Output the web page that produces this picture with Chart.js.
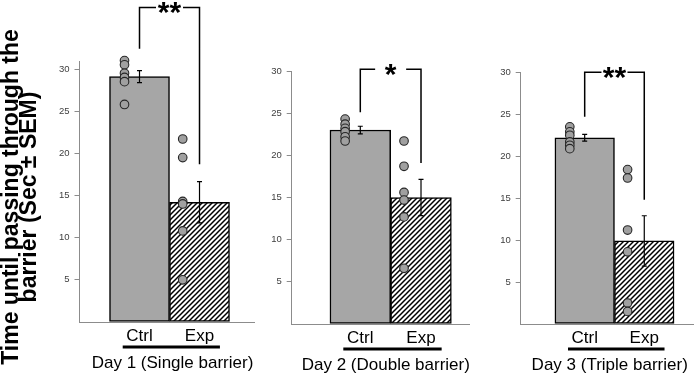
<!DOCTYPE html>
<html>
<head>
<meta charset="utf-8">
<title>Time until passing through the barrier</title>
<script src="https://cdn.jsdelivr.net/npm/chart.js"></script>
<style>
  body { margin: 0; background: #fff; }
  #wrap { position: relative; width: 699px; height: 377px; }
  #wrap canvas { position: absolute; left: 0; top: 0; }
</style>
</head>
<body>
<div id="wrap">
  <canvas id="day1" width="699" height="377"></canvas>
  <canvas id="day2" width="699" height="377"></canvas>
  <canvas id="day3" width="699" height="377"></canvas>
</div>
<script>
// ---- data ----
var categories = ['Ctrl', 'Exp'];
var dayTitles = ['Day 1 (Single barrier)', 'Day 2 (Double barrier)', 'Day 3 (Triple barrier)'];
var yTitle = ['Time until passing through the', 'barrier (Sec \u00b1 SEM)'];
var yTicks = [0, 5, 10, 15, 20, 25, 30];

var meanCtrl = [29.1, 23.0, 22.2];
var meanExp = [14.2, 15.0, 9.9];
var semCtrl = [0.7, 0.45, 0.4];
var semExp = [2.45, 2.15, 3.0];

var ctrlPoints = [
  [31.0, 30.5, 29.5, 29.0, 28.5, 25.8],
  [24.3, 23.7, 23.2, 22.8, 22.2, 21.7],
  [23.5, 22.9, 22.5, 21.7, 21.3, 20.9]
];
var expPoints = [
  [21.7, 19.5, 14.3, 14.0, 10.8, 5.0],
  [21.7, 18.7, 15.6, 14.7, 12.7, 6.6],
  [18.4, 17.4, 11.2, 8.6, 2.5, 1.5]
];

// significance brackets (y values in data units)
var sigLabels = ['**', '*', '**'];
var sigLevel = [37.3, 30.2, 30.0];
var sigLeftEnd = [32.4, 25.1, 24.7];
var sigRightEnd = [18.7, 19.1, 14.8];

// ---- layout ----
var FONT = "'Liberation Sans', Arial, sans-serif";
var ctrlDotX = -0.25, expDotX = 0.72;
var panels = [
  { id: 'day1', padLeft: 0, yWidth: 79.5, padRight: 445, padTop: 61.7, padBottom: 15, xMin: -1.0, xMax: 1.908, yMax: 30.87, yTitle: true, titleX: 0.55, gap: 27 },
  { id: 'day2', padLeft: 246.7, yWidth: 45, padRight: 229, padTop: 71, padBottom: 13, xMin: -1.13, xMax: 1.807, yMax: 30, yTitle: false, titleX: 0.42, gap: 31 },
  { id: 'day3', padLeft: 475.7, yWidth: 45, padRight: 1.3, padTop: 72.3, padBottom: 13, xMin: -1.074, xMax: 1.828, yMax: 30, yTitle: false, titleX: 0.42, gap: 26 }
];

function makeHatch() {
  var c = document.createElement('canvas');
  c.width = 5; c.height = 5;
  var g = c.getContext('2d');
  g.fillStyle = '#fff';
  g.fillRect(0, 0, 5, 5);
  g.strokeStyle = '#000';
  g.lineWidth = 1.5;
  g.beginPath();
  g.moveTo(0, 5); g.lineTo(5, 0);
  g.moveTo(-1, 1); g.lineTo(1, -1);
  g.moveTo(4, 6); g.lineTo(6, 4);
  g.stroke();
  return g.createPattern(c, 'repeat');
}

// error bars, bracket, underline, day title and the big y title
var decor = {
  id: 'decor',
  afterDraw: function(chart, args, o) {
    var ctx = chart.ctx, xs = chart.scales.x, ys = chart.scales.y, k = o.k, p = panels[k];
    ctx.save();
    ctx.strokeStyle = '#000';

    // error bars
    var means = [meanCtrl[k], meanExp[k]], sems = [semCtrl[k], semExp[k]];
    ctx.lineWidth = 1.2;
    for (var i = 0; i < 2; i++) {
      var x = xs.getPixelForValue(i);
      var yt = ys.getPixelForValue(means[i] + sems[i]);
      var yb = ys.getPixelForValue(means[i] - sems[i]);
      ctx.beginPath();
      ctx.moveTo(x, yt); ctx.lineTo(x, yb);
      ctx.moveTo(x - 2.5, yt); ctx.lineTo(x + 2.5, yt);
      ctx.moveTo(x - 2.5, yb); ctx.lineTo(x + 2.5, yb);
      ctx.stroke();
    }

    // bracket
    var xl = xs.getPixelForValue(0), xr = xs.getPixelForValue(1), xc = (xl + xr) / 2;
    var yB = ys.getPixelForValue(sigLevel[k]);
    ctx.lineWidth = 1.5;
    ctx.beginPath();
    ctx.moveTo(xl, ys.getPixelForValue(sigLeftEnd[k]));
    ctx.lineTo(xl, yB);
    ctx.lineTo(xc - p.gap / 2, yB);
    ctx.moveTo(xc + p.gap / 2, yB);
    ctx.lineTo(xr, yB);
    ctx.lineTo(xr, ys.getPixelForValue(sigRightEnd[k]));
    ctx.stroke();
    ctx.fillStyle = '#000';
    ctx.font = 'bold 30px ' + FONT;
    ctx.textAlign = 'center';
    ctx.textBaseline = 'alphabetic';
    ctx.fillText(sigLabels[k], xc, yB + 15);

    // thick line under the categories
    var bottom = chart.chartArea.bottom;
    ctx.lineWidth = 2.8;
    ctx.beginPath();
    ctx.moveTo(xs.getPixelForValue(-0.28), bottom + 25);
    ctx.lineTo(xs.getPixelForValue(1.34), bottom + 25);
    ctx.stroke();

    // day title
    ctx.font = '17px ' + FONT;
    ctx.textBaseline = 'middle';
    ctx.fillText(dayTitles[k], xs.getPixelForValue(p.titleX), bottom + 41.5);

    // y title (first panel only)
    if (p.yTitle) {
      ctx.translate(0, 197);
      ctx.rotate(-Math.PI / 2);
      ctx.font = 'bold 23px ' + FONT;
      ctx.textBaseline = 'alphabetic';
      ctx.fillText(yTitle[0], 0, 17.5);
      ctx.fillText(yTitle[1], 0, 36);
    }
    ctx.restore();
  }
};

var hatch = makeHatch();

panels.forEach(function(p, k) {
  new Chart(document.getElementById(p.id), {
    type: 'bar',
    data: {
      datasets: [
        {
          type: 'scatter',
          data: ctrlPoints[k].map(function(v) { return { x: ctrlDotX, y: v }; })
            .concat(expPoints[k].map(function(v) { return { x: expDotX, y: v }; })),
          pointRadius: 4.3,
          pointBackgroundColor: '#a0a0a0',
          pointBorderColor: '#262626',
          pointBorderWidth: 1.1,
          clip: false,
          order: 0
        },
        {
          type: 'bar',
          data: [{ x: 0, y: meanCtrl[k] }, { x: 1, y: meanExp[k] }],
          backgroundColor: ['#a6a6a6', hatch],
          borderColor: '#000',
          borderWidth: 1.5,
          borderSkipped: false,
          barPercentage: 1,
          categoryPercentage: 1,
          order: 1
        }
      ]
    },
    options: {
      responsive: false,
      animation: false,
      devicePixelRatio: 1,
      layout: { padding: { left: p.padLeft, right: p.padRight, top: p.padTop, bottom: p.padBottom } },
      plugins: {
        legend: { display: false },
        tooltip: { enabled: false },
        decor: { k: k }
      },
      scales: {
        x: {
          type: 'linear',
          offset: false,
          min: p.xMin,
          max: p.xMax,
          afterBuildTicks: function(s) { s.ticks = categories.map(function(c, i) { return { value: i }; }); },
          afterFit: function(s) { s.height = 40; },
          ticks: {
            callback: function(v, i) { return categories[i]; },
            font: { family: FONT, size: 17 },
            color: '#000',
            padding: 4.5,
            maxRotation: 0,
            autoSkip: false
          },
          grid: { display: false, drawTicks: false },
          border: { color: '#8c8c8c', width: 1 }
        },
        y: {
          type: 'linear',
          min: 0,
          max: p.yMax,
          afterBuildTicks: function(s) { s.ticks = yTicks.map(function(v) { return { value: v }; }); },
          afterFit: function(s) { s.width = p.yWidth; },
          ticks: {
            callback: function(v) { return v === 0 ? '' : v; },
            font: { family: FONT, size: 9.5 },
            color: '#404040',
            padding: 5
          },
          grid: {
            drawOnChartArea: false,
            drawTicks: true,
            tickLength: 5,
            color: function(c) { return c.tick && c.tick.value === 0 ? 'rgba(0,0,0,0)' : '#8c8c8c'; }
          },
          border: { color: '#8c8c8c', width: 1 }
        }
      }
    },
    plugins: [decor]
  });
});
</script>
</body>
</html>
